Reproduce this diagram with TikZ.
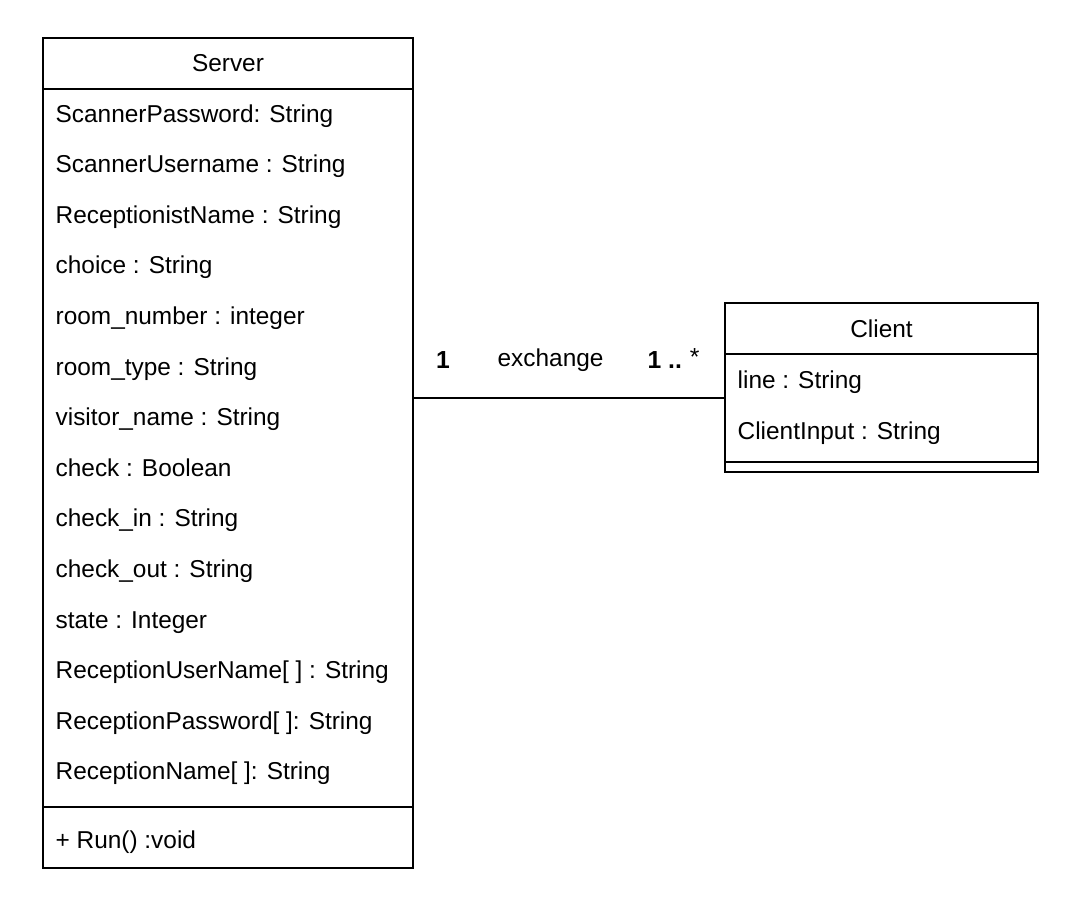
\documentclass[tikz,border=0pt]{standalone}
\usepackage{fontspec}
\setmainfont{Liberation Sans}
\usetikzlibrary{positioning}

\begin{document}
\begin{tikzpicture}[x=0.75pt,y=-0.75pt,line width=1pt,node distance=0pt]
  \tikzstyle{box}=[draw,inner sep=0pt,outer sep=0pt,fill=white]
  \tikzstyle{attr}=[anchor=base west,inner sep=0pt,font=\fontsize{18.3}{22}\selectfont]
  \tikzstyle{title}=[anchor=base,inner sep=0pt,font=\fontsize{18.3}{22}\selectfont]
  \useasboundingbox (0,0) rectangle (1070,904);
  % Server class
  \node[box,minimum width=277.5pt,minimum height=38.25pt] (srvhead) at (228,63.5) {};
  \node[box,minimum width=277.5pt,minimum height=538.5pt,below=of srvhead] (srvattr) {};
  \node[box,minimum width=277.5pt,minimum height=45.75pt,below=of srvattr] (srvops) {};
  \node[title] (srvname) at (228,71) {Server};
  \node[attr] (s1) at (55,122) {ScannerPassword: String};
  \node[attr] (s2) at (55,172.6) {ScannerUsername : String};
  \node[attr] (s3) at (55,223.2) {ReceptionistName : String};
  \node[attr] (s4) at (55,273.8) {choice : String};
  \node[attr] (s5) at (55,324.4) {room\_number : integer};
  \node[attr] (s6) at (55,375) {room\_type : String};
  \node[attr] (s7) at (55,425.6) {visitor\_name : String};
  \node[attr] (s8) at (55,476.2) {check : Boolean};
  \node[attr] (s9) at (55,526.8) {check\_in : String};
  \node[attr] (s10) at (55,577.4) {check\_out : String};
  \node[attr] (s11) at (55,628) {state : Integer};
  \node[attr] (s12) at (55,678.6) {ReceptionUserName[ ] : String};
  \node[attr] (s13) at (55,729.2) {ReceptionPassword[ ]: String};
  \node[attr] (s14) at (55,779.8) {ReceptionName[ ]: String};
  \node[attr] (run) at (55,848) {+ Run() :void};
  % Client class
  \node[box,minimum width=234.75pt,minimum height=38.25pt] (clihead) at (881.5,328.5) {};
  \node[box,minimum width=234.75pt,minimum height=81pt,below=of clihead] (cliattr) {};
  \node[box,minimum width=234.75pt,minimum height=7.5pt,below=of cliattr] (cliops) {};
  \node[title] (cliname) at (881.5,337) {Client};
  \node[attr] (c1) at (737,388) {line : String};
  \node[attr] (c2) at (737,439) {ClientInput : String};
  % association
  \coordinate (assoc) at (0,398);
  \draw (srvattr.east |- assoc) -- (cliattr.west |- assoc);
  \node[title,font=\fontsize{18.5}{22}\selectfont\bfseries] (mone) at (443,368) {1};
  \node[attr] (assocname) at (497,366) {exchange};
  \node[attr,font=\fontsize{18.5}{22}\selectfont\bfseries] (mmany) at (647,368) {1 ..\hspace{6pt}\raisebox{2pt}{\mdseries *}};
\end{tikzpicture}
\end{document}
